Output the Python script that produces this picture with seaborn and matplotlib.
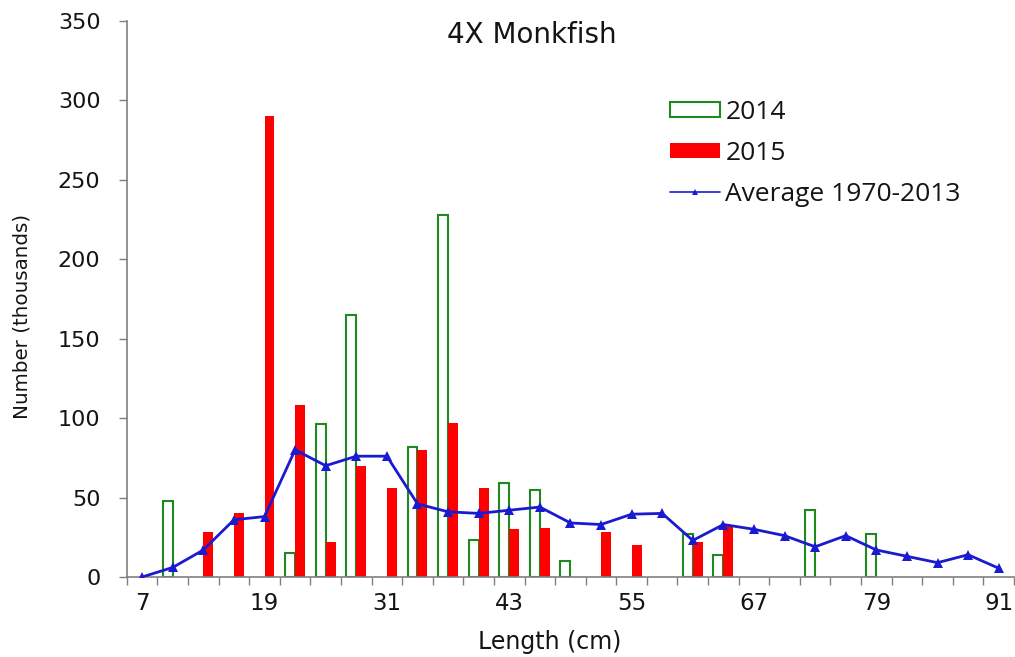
import numpy as np
import pandas as pd
import matplotlib
matplotlib.use("Agg")
import matplotlib.pyplot as plt
from matplotlib.patches import Patch
from matplotlib.lines import Line2D
import seaborn as sns

# Length classes (cm)
lengths = [7, 10, 13, 16, 19, 22, 25, 28, 31, 34, 37, 40, 43, 46, 49,
           52, 55, 58, 61, 64, 67, 70, 73, 76, 79, 82, 85, 88, 91]

nan = np.nan
# Numbers at length (thousands)
n2014 = [nan, 48, nan, nan, nan, 15, 96, 165, nan, 82, 228, 23, 59, 55, 10,
         nan, nan, nan, 27, 14, nan, nan, 42, nan, 27, nan, nan, nan, nan]
n2015 = [nan, nan, 28, 40, 290, 108, 22, 70, 56, 80, 97, 56, 30, 31, nan,
         28, 20, nan, 22, 32, nan, nan, nan, nan, nan, nan, nan, nan, nan]
avg_1970_2013 = [0, 6, 17, 36, 38, 80, 70, 76, 76, 46, 41, 40, 42, 44, 34,
                 33, 39.5, 40, 23, 33, 30, 26, 19, 26, 17, 13, 9, 14, 5.5]

x_tick_labels = ["7", "19", "31", "43", "55", "67", "79", "91"]
y_ticks = [0, 50, 100, 150, 200, 250, 300, 350]

GREEN = "#1f8a1f"
RED = "#ff0000"
BLUE = "#1a1ad0"
AXIS_GREY = "#808080"
TEXT = "#141414"

sns.set_theme(style="white")
plt.rcParams["font.family"] = ["DejaVu Sans"]

labels = [str(v) for v in lengths]
bars = pd.DataFrame({
    "Length": labels * 2,
    "Year": ["2014"] * len(labels) + ["2015"] * len(labels),
    "Number": n2014 + n2015,
}).dropna()

fig = plt.figure(figsize=(10.15, 6.57), dpi=100)
ax = fig.add_axes([0.125, 0.1218, 0.874, 0.8467])

sns.barplot(data=bars, x="Length", y="Number", hue="Year",
            order=labels, hue_order=["2014", "2015"],
            palette={"2014": GREEN, "2015": RED}, saturation=1,
            width=0.65, errorbar=None, legend=False, ax=ax)

# 2014: hollow green bars; 2015: solid red bars
for patch in ax.containers[0]:
    patch.set_facecolor("white")
    patch.set_edgecolor(GREEN)
    patch.set_linewidth(1.5)
for patch in ax.containers[1]:
    patch.set_edgecolor("none")

positions = np.arange(len(lengths))
sns.lineplot(x=positions, y=avg_1970_2013, color=BLUE, linewidth=2,
             marker="^", markersize=6.5, markeredgewidth=0, ax=ax, zorder=5)

ax.set_xlim(-0.5, len(lengths) - 0.5)
ax.set_ylim(0, 350)
ax.set_yticks(y_ticks)
ax.set_yticklabels([str(v) for v in y_ticks])

# tick marks between length classes, labels every fourth class
ax.set_xticks(np.arange(len(lengths) + 1) - 0.5)
ax.set_xticklabels([""] * (len(lengths) + 1))
label_pos = [labels.index(t) for t in x_tick_labels]
ax.set_xticks(label_pos, minor=True)
ax.set_xticklabels(x_tick_labels, minor=True)

ax.tick_params(axis="x", which="major", direction="out", length=6,
               width=1, color=AXIS_GREY, bottom=True)
ax.tick_params(axis="x", which="minor", length=0, pad=11,
               labelsize=16.5, colors=TEXT, bottom=True)
ax.tick_params(axis="y", which="major", direction="out", length=6,
               width=1, color=AXIS_GREY, pad=13, labelsize=16, left=True,
               labelcolor=TEXT)

sns.despine(ax=ax)
for side in ("left", "bottom"):
    ax.spines[side].set_color(AXIS_GREY)
    ax.spines[side].set_linewidth(1.2)

ax.set_xlabel("Length (cm)", fontsize=17, color=TEXT)
ax.xaxis.set_label_coords(0.477, -0.095)
ax.set_ylabel("Number (thousands)", fontsize=14.3, color=TEXT)
ax.yaxis.set_label_coords(-0.107, 0.469)

fig.text(531.5 / 1015, 1 - 43 / 657, "4X Monkfish", ha="center",
         va="baseline", fontsize=20, color=TEXT)

handles = [
    Patch(facecolor="white", edgecolor=GREEN, linewidth=1.5, label="2014"),
    Patch(facecolor=RED, edgecolor="none", label="2015"),
    Line2D([], [], color=BLUE, linewidth=1.2, marker="^", markersize=4,
           markeredgewidth=0, label="Average 1970-2013"),
]
leg = ax.legend(handles=handles, loc="upper left",
                bbox_to_anchor=(670 / 1015, 1 - 100 / 657),
                bbox_transform=fig.transFigure, frameon=False,
                borderpad=0, borderaxespad=0, handlelength=1.9,
                handleheight=0.5, handletextpad=0.2, labelspacing=0.6,
                prop={"family": "Open Sans", "size": 19})
for t in leg.get_texts():
    t.set_color(TEXT)

fig.savefig("out.png", dpi=100, facecolor="white")
